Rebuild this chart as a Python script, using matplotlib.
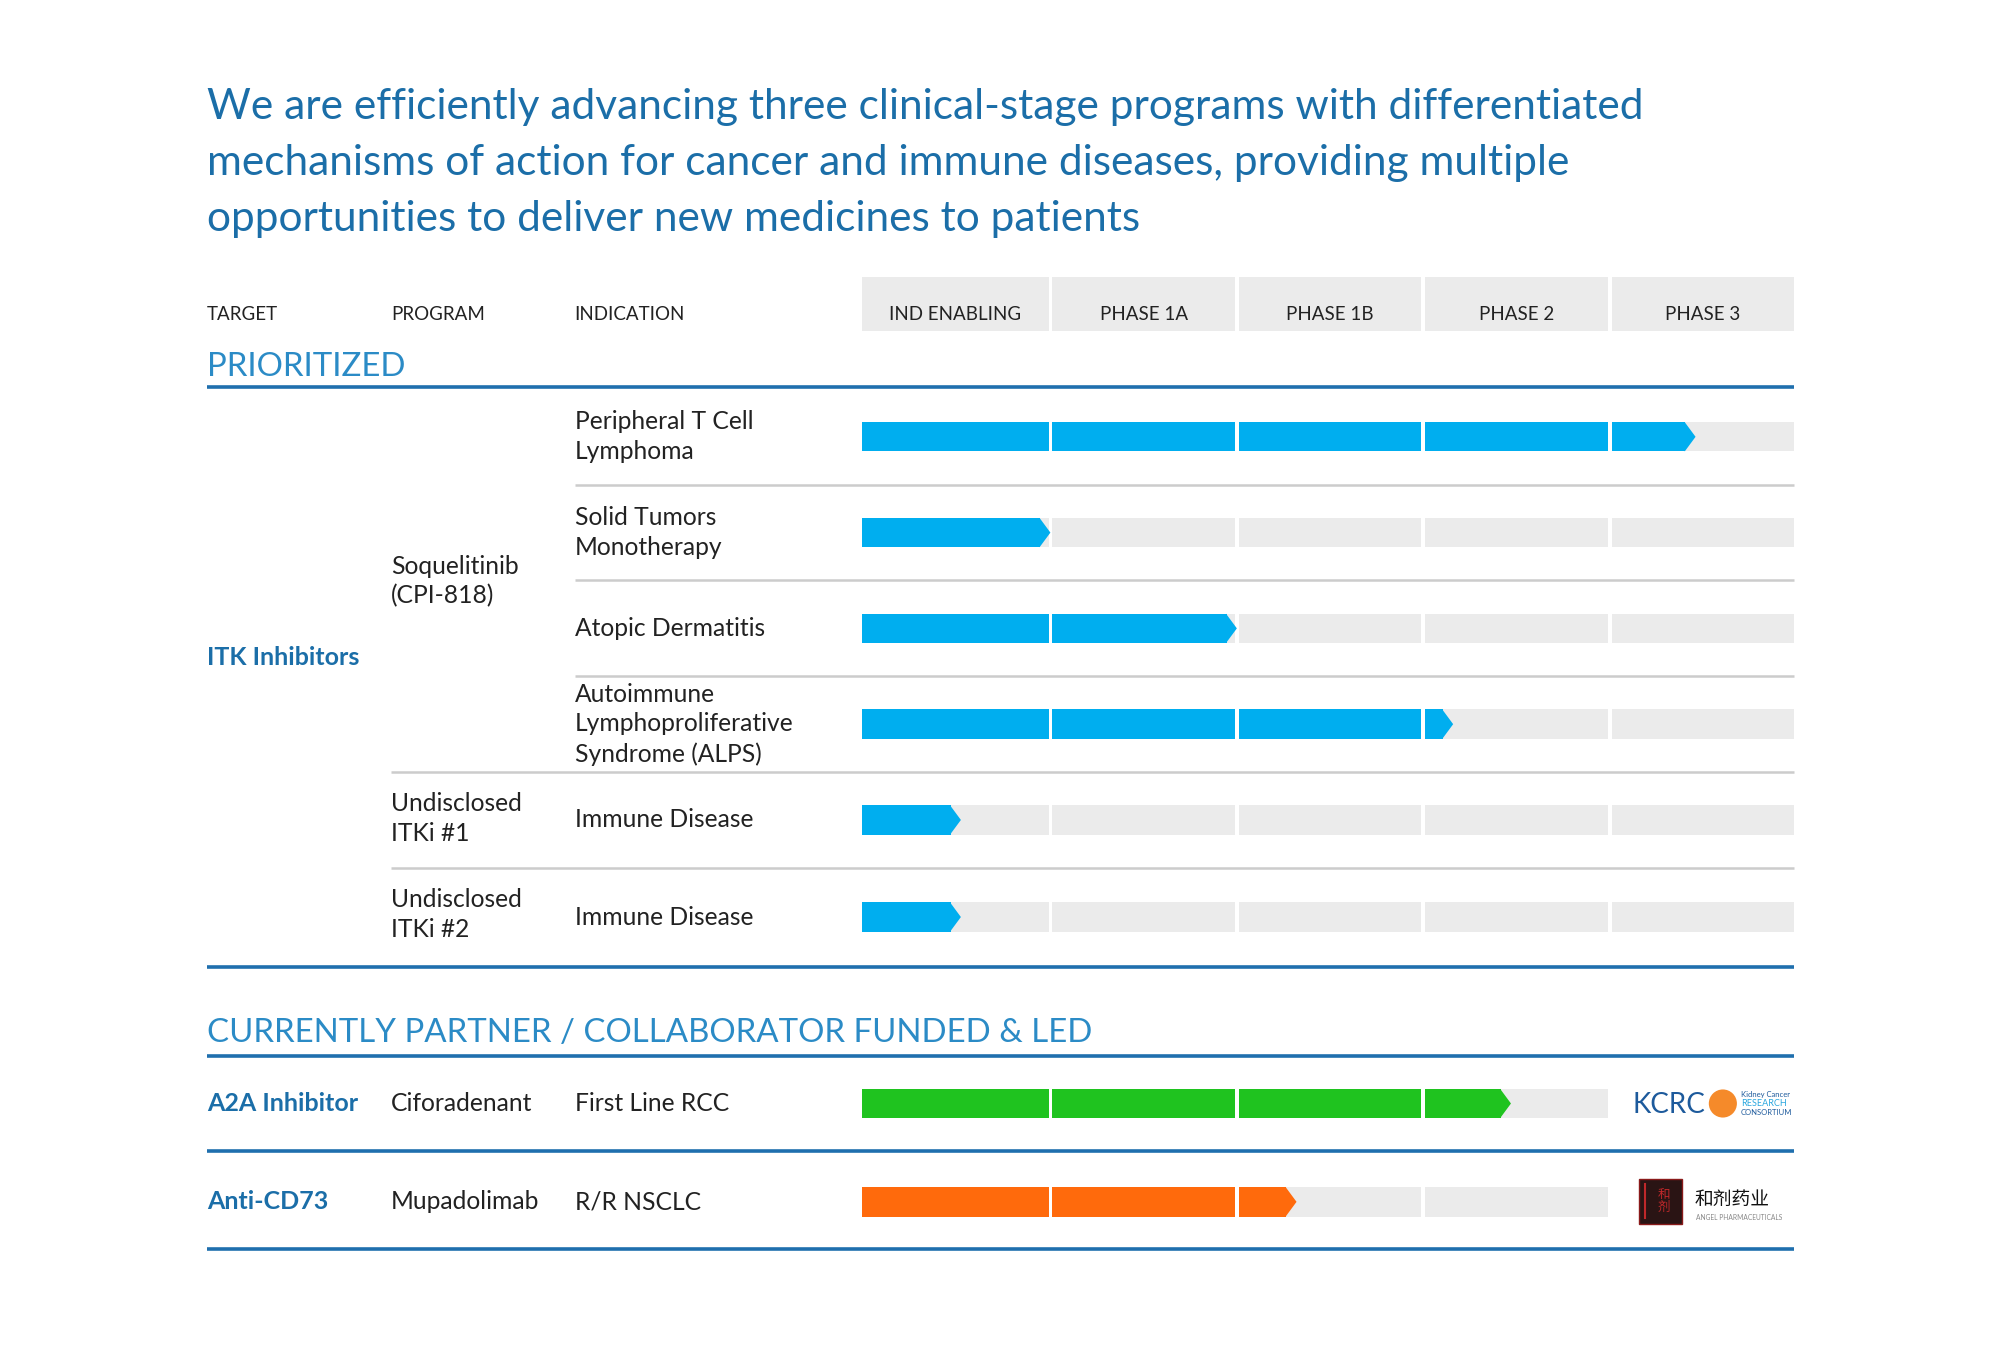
import numpy as np
import matplotlib.pyplot as plt
from matplotlib.patches import Rectangle, Polygon, Circle

# ---- data ----
title = ("We are efficiently advancing three clinical-stage programs with differentiated\n"
         "mechanisms of action for cancer and immune diseases, providing multiple\n"
         "opportunities to deliver new medicines to patients")
phases = ['IND ENABLING', 'PHASE 1A', 'PHASE 1B', 'PHASE 2', 'PHASE 3']
col_headers = ['TARGET', 'PROGRAM', 'INDICATION']

prio_indications = ['Peripheral T Cell\nLymphoma', 'Solid Tumors\nMonotherapy', 'Atopic Dermatitis',
                    'Autoimmune\nLymphoproliferative\nSyndrome (ALPS)', 'Immune Disease', 'Immune Disease']
prio_progress = [4.47, 1.01, 2.01, 3.17, 0.53, 0.53]   # in phase units
prio_programs = ['Soquelitinib\n(CPI-818)', 'Undisclosed\nITKi #1', 'Undisclosed\nITKi #2']
prio_target = 'ITK Inhibitors'

partner_targets = ['A2A Inhibitor', 'Anti-CD73']
partner_programs = ['Ciforadenant', 'Mupadolimab']
partner_indications = ['First Line RCC', 'R/R NSCLC']
partner_progress = [3.48, 2.33]
partner_colors = ['#1fc31f', '#ff6a0c']

# ---- style ----
plt.rcParams['font.family'] = ['Lato', 'Noto Sans CJK SC', 'DejaVu Sans']
BLUE_T = '#1b6ea8'
BLUE_H = '#2b8bc6'
LINE_B = '#1f6fae'
BAR_B = '#00aeef'
TRACK = '#ebebeb'
TXT = '#222222'
BODY = 17.7

fig = plt.figure(figsize=(20, 13.5), dpi=100)
ax = fig.add_axes([0, 0, 1, 1])
ax.set_xlim(0, 1566)
ax.set_ylim(1057, 0)
ax.axis('off')

X0, PW, GAP = 675, 146.0, 3.0
BAR_H = 23
CHEV = 8


def px(p):
    return X0 + p * PW


def draw_bar(yc, prog, color, n_track=5):
    top = yc - BAR_H / 2
    for k in range(n_track):
        a = px(k) + (GAP if k > 0 else 0)
        b = px(k + 1)
        ax.add_patch(Rectangle((a, top), b - a, BAR_H, color=TRACK, lw=0))
    tip = px(prog)
    body_end = tip - CHEV
    for k in range(n_track):
        a = px(k) + (GAP if k > 0 else 0)
        b = min(px(k + 1), body_end)
        if b > a:
            ax.add_patch(Rectangle((a, top), b - a, BAR_H, color=color, lw=0))
    ax.add_patch(Polygon([(body_end - 0.5, top), (tip, yc), (body_end - 0.5, top + BAR_H)],
                         closed=True, color=color, lw=0))


# title
ax.text(162, 69, title, fontsize=30.5, color=BLUE_T, va='top', ha='left', linespacing=1.58)

# header row
for x, h in zip([162, 306, 450], col_headers):
    ax.text(x, 246, h, fontsize=13.5, color=TXT, va='center', ha='left')
for k, ph in enumerate(phases):
    a = px(k) + (GAP if k > 0 else 0)
    ax.add_patch(Rectangle((a, 217), px(k + 1) - a, 42, color=TRACK, lw=0))
    ax.text((a + px(k + 1)) / 2, 246, ph, fontsize=13.5, color=TXT, va='center', ha='center')

# prioritized section
ax.text(162, 287, 'PRIORITIZED', fontsize=23.8, color=BLUE_H, va='center', ha='left')
ax.plot([162, 1405], [303, 303], color=LINE_B, lw=2.6, solid_capstyle='butt')

row_y = [342, 417, 492, 567, 642, 718]
for yc, ind, prog in zip(row_y, prio_indications, prio_progress):
    ax.text(450, yc, ind, fontsize=BODY, color=TXT, va='center', ha='left', linespacing=1.35)
    draw_bar(yc, prog, BAR_B)

# separators
for i in range(len(row_y) - 1):
    ys = (row_y[i] + row_y[i + 1]) / 2
    xs = 450 if i < 3 else 306
    ax.plot([xs, 1405], [ys, ys], color='#cccccc', lw=1.8, solid_capstyle='butt')

for yc, pg in zip([455, 641, 716], prio_programs):
    ax.text(306, yc, pg, fontsize=BODY, color=TXT, va='center', ha='left', linespacing=1.35)
ax.text(162, 515, prio_target, fontsize=18, color=BLUE_T, fontweight='bold', va='center', ha='left')
ax.plot([162, 1405], [757, 757], color=LINE_B, lw=2.6, solid_capstyle='butt')

# partner section
ax.text(162, 809, 'CURRENTLY PARTNER / COLLABORATOR FUNDED & LED', fontsize=23.8, color=BLUE_H,
        va='center', ha='left')
ax.plot([162, 1405], [827, 827], color=LINE_B, lw=2.6, solid_capstyle='butt')
partner_y = [864, 941]
for yc, tg, pg, ind, prog, c in zip(partner_y, partner_targets, partner_programs,
                                     partner_indications, partner_progress, partner_colors):
    ax.text(162, yc, tg, fontsize=18, color=BLUE_T, fontweight='bold', va='center', ha='left')
    ax.text(306, yc, pg, fontsize=BODY, color=TXT, va='center', ha='left')
    ax.text(450, yc, ind, fontsize=BODY, color=TXT, va='center', ha='left')
    draw_bar(yc, prog, c, n_track=4)
    ax.plot([162, 1405], [yc + 37, yc + 37], color=LINE_B, lw=2.6, solid_capstyle='butt')

# KCRC logo
ax.text(1278, 865, 'KCRC', fontsize=20, color='#1d5a9c', va='center', ha='left')
ax.add_patch(Circle((1349, 864), 11, color='#f58a2a', lw=0))
ax.text(1363, 857, 'Kidney Cancer', fontsize=5.5, color='#1d5a9c', va='center', ha='left')
ax.text(1363, 864, 'RESEARCH', fontsize=6.5, color='#2aa7df', va='center', ha='left')
ax.text(1363, 871, 'CONSORTIUM', fontsize=5.5, color='#1d5a9c', va='center', ha='left')

# Angel Pharmaceuticals logo
ax.add_patch(Rectangle((1283, 923), 34, 35, facecolor='#2a1414', edgecolor='#8a1a1a', lw=1))
ax.text(1303, 940, '和\n剂', fontsize=9, color='#c0282a', va='center', ha='center', linespacing=1.0)
ax.plot([1288, 1288], [927, 954], color='#c0282a', lw=1.5)
ax.text(1327, 939, '和剂药业', fontsize=13.5, color='#111111', va='center', ha='left')
ax.text(1328, 953, 'ANGEL PHARMACEUTICALS', fontsize=4.8, color='#888888', va='center', ha='left')

fig.savefig('out.png', dpi=100)
